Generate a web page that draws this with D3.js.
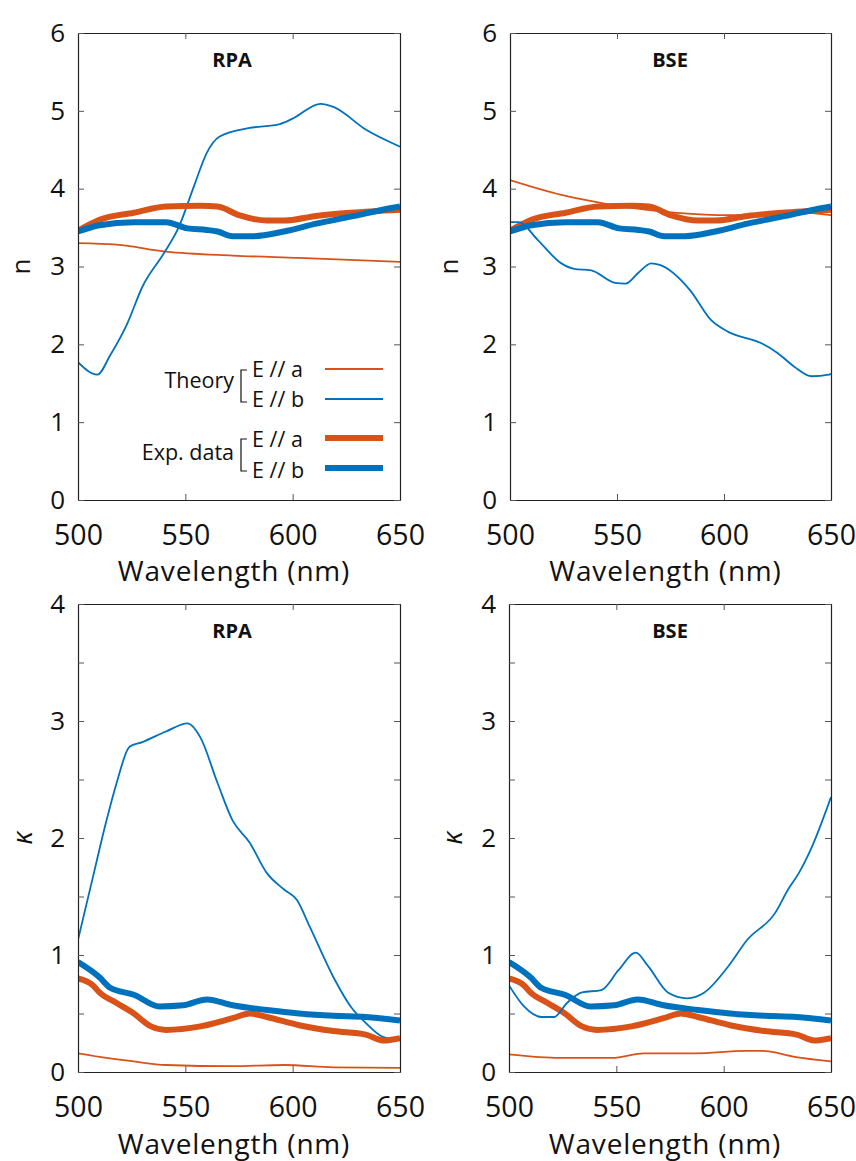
<!DOCTYPE html>
<html>
<head>
<meta charset="utf-8">
<script src="https://cdn.jsdelivr.net/npm/d3@7"></script>
<style>
body { margin: 0; background: #fff; }
text { font-family: "Open Sans", sans-serif; fill: #111; }
</style>
</head>
<body>
<div id="chart"></div>
<script>
// ---- data (wavelength in nm) ----
var xTicks = [500, 550, 600, 650];
var nTicks = [0, 1, 2, 3, 4, 5, 6];
var kTicks = [0, 0.5, 1, 1.5, 2, 2.5, 3, 3.5, 4];

// experimental data (same in RPA and BSE panels)
var expA_n_wl = [500, 510, 526, 541, 557, 565, 575, 588, 596, 611, 627, 650];
var expA_n = [3.46, 3.60, 3.69, 3.77, 3.78, 3.77, 3.66, 3.59, 3.59, 3.65, 3.69, 3.73];
var expB_n_wl = [500, 510, 526, 541, 551, 560, 565, 572, 582, 596, 611, 627, 642, 650];
var expB_n = [3.45, 3.53, 3.57, 3.57, 3.49, 3.47, 3.45, 3.39, 3.39, 3.45, 3.55, 3.64, 3.73, 3.77];
var expA_k_wl = [500, 507, 510, 518, 526, 534, 541, 557, 572, 580, 588, 603, 619, 634, 642, 650];
var expA_k = [0.80, 0.74, 0.68, 0.59, 0.50, 0.39, 0.36, 0.39, 0.46, 0.50, 0.47, 0.40, 0.35, 0.32, 0.27, 0.29];
var expB_k_wl = [500, 510, 515, 526, 538, 549, 560, 572, 588, 603, 619, 634, 650];
var expB_k = [0.94, 0.81, 0.72, 0.66, 0.56, 0.57, 0.62, 0.57, 0.53, 0.50, 0.48, 0.47, 0.44];

// RPA theory
var rpaA_n_wl = [500, 518, 541, 572, 603, 650];
var rpaA_n = [3.30, 3.28, 3.19, 3.14, 3.11, 3.06];
var rpaB_n_wl = [500, 509, 515, 523, 530, 540, 547, 554, 560, 566, 580, 594, 600, 613, 619, 634, 650];
var rpaB_n = [1.77, 1.61, 1.86, 2.27, 2.74, 3.17, 3.51, 4.03, 4.46, 4.67, 4.78, 4.83, 4.90, 5.09, 5.05, 4.76, 4.54];
var rpaA_k_wl = [500, 510, 526, 541, 572, 596, 619, 650];
var rpaA_k = [0.16, 0.13, 0.09, 0.06, 0.05, 0.06, 0.04, 0.035];
var rpaB_k_wl = [500, 507, 513, 518, 524, 530, 541, 551, 557, 565, 572, 580, 588, 596, 602, 608, 619, 627, 634, 642, 650];
var rpaB_k = [1.13, 1.67, 2.13, 2.47, 2.78, 2.82, 2.91, 2.98, 2.86, 2.47, 2.15, 1.96, 1.70, 1.56, 1.47, 1.24, 0.81, 0.56, 0.42, 0.30, 0.27];

// BSE theory
var bseA_n_wl = [500, 524, 540, 555, 578, 602, 633, 650];
var bseA_n = [4.11, 3.92, 3.83, 3.76, 3.69, 3.66, 3.70, 3.66];
var bseB_n_wl = [500, 504, 513, 524, 530, 538, 549, 554, 560, 566, 570, 584, 594, 602, 617, 625, 633, 641, 649, 650];
var bseB_n = [3.57, 3.57, 3.34, 3.04, 2.97, 2.95, 2.79, 2.78, 2.92, 3.04, 3.02, 2.70, 2.31, 2.16, 2.02, 1.89, 1.71, 1.59, 1.61, 1.62];
var bseA_k_wl = [500, 524, 548, 563, 587, 610, 618, 633, 650];
var bseA_k = [0.15, 0.12, 0.12, 0.16, 0.16, 0.18, 0.18, 0.13, 0.09];
var bseB_k_wl = [500, 507, 515, 521, 527, 534, 543, 551, 559, 565, 574, 583, 591, 602, 611, 624, 630, 635, 641, 650];
var bseB_k = [0.74, 0.56, 0.47, 0.47, 0.59, 0.68, 0.70, 0.87, 1.02, 0.90, 0.68, 0.63, 0.68, 0.90, 1.13, 1.36, 1.56, 1.70, 1.92, 2.35];

var ORANGE = "#D95319", BLUE = "#0072BD";

function series(wl, vals, color, width) {
    return { pts: wl.map(function (w, i) { return [w, vals[i]]; }), color: color, width: width };
}

var panels = [
    { id: "p1", left: 78, right: 400, top: 33, bottom: 500, ymax: 6, yTicks: nTicks, title: "RPA", titleX: 232, ylab: "n", ylabX: 30, xlabDy: 81,
      lines: [series(rpaA_n_wl, rpaA_n, ORANGE, 1.8), series(rpaB_n_wl, rpaB_n, BLUE, 1.8),
              series(expA_n_wl, expA_n, ORANGE, 6), series(expB_n_wl, expB_n, BLUE, 6)] },
    { id: "p2", left: 510, right: 831, top: 33, bottom: 500, ymax: 6, yTicks: nTicks, title: "BSE", titleX: 670, ylab: "n", ylabX: 458, xlabDy: 81,
      lines: [series(expA_n_wl, expA_n, ORANGE, 6), series(bseA_n_wl, bseA_n, ORANGE, 1.8),
              series(expB_n_wl, expB_n, BLUE, 6), series(bseB_n_wl, bseB_n, BLUE, 1.8)] },
    { id: "p3", left: 78, right: 400, top: 604, bottom: 1072, ymax: 4, yTicks: kTicks, title: "RPA", titleX: 232, ylab: "κ", ylabX: 32, xlabDy: 82,
      lines: [series(rpaA_k_wl, rpaA_k, ORANGE, 1.8), series(rpaB_k_wl, rpaB_k, BLUE, 1.8),
              series(expA_k_wl, expA_k, ORANGE, 6), series(expB_k_wl, expB_k, BLUE, 6)] },
    { id: "p4", left: 509, right: 831, top: 604, bottom: 1072, ymax: 4, yTicks: kTicks, title: "BSE", titleX: 670, ylab: "κ", ylabX: 462, xlabDy: 82,
      lines: [series(bseA_k_wl, bseA_k, ORANGE, 1.8), series(expA_k_wl, expA_k, ORANGE, 6),
              series(expB_k_wl, expB_k, BLUE, 6), series(bseB_k_wl, bseB_k, BLUE, 1.8)] }
];

var svg = d3.select("#chart").append("svg")
    .attr("width", 856)
    .attr("height", 1161)
    .style("background", "#fff");

panels.forEach(drawPanel);
drawLegend(panels[0]);

function drawPanel(p) {
    var x = d3.scaleLinear().domain([500, 650]).range([p.left, p.right]);
    var y = d3.scaleLinear().domain([0, p.ymax]).range([p.bottom, p.top]);
    var g = svg.append("g");

    g.append("clipPath").attr("id", "clip-" + p.id)
        .append("rect")
        .attr("x", p.left).attr("y", p.top)
        .attr("width", p.right - p.left).attr("height", p.bottom - p.top);

    var line = d3.line()
        .x(function (d) { return x(d[0]); })
        .y(function (d) { return y(d[1]); })
        .curve(d3.curveMonotoneX);

    p.lines.forEach(function (s) {
        g.append("path")
            .datum(s.pts)
            .attr("clip-path", "url(#clip-" + p.id + ")")
            .attr("d", line)
            .attr("fill", "none")
            .attr("stroke", s.color)
            .attr("stroke-width", s.width)
            .attr("stroke-linejoin", "round");
    });

    var intLabel = function (d) { return Number.isInteger(d) ? d : ""; };

    // bottom axis with labels
    var bx = g.append("g")
        .attr("transform", "translate(0," + p.bottom + ")")
        .call(d3.axisBottom(x).tickValues(xTicks).tickSizeInner(-6).tickSizeOuter(0).tickPadding(25));
    bx.selectAll("text").style("font-size", "28.5px");
    // top axis, ticks only
    g.append("g")
        .attr("transform", "translate(0," + p.top + ")")
        .call(d3.axisTop(x).tickValues(xTicks).tickSizeInner(-6).tickSizeOuter(0).tickFormat(""));
    // left axis with labels
    var ly = g.append("g")
        .attr("transform", "translate(" + p.left + ",0)")
        .call(d3.axisLeft(y).tickValues(p.yTicks).tickSizeInner(-6).tickSizeOuter(0).tickPadding(13).tickFormat(intLabel));
    ly.selectAll("text").style("font-size", "26px");
    // right axis, ticks only
    g.append("g")
        .attr("transform", "translate(" + p.right + ",0)")
        .call(d3.axisRight(y).tickValues(p.yTicks).tickSizeInner(-6).tickSizeOuter(0).tickFormat(""));

    g.selectAll(".domain").attr("stroke", "#222").attr("stroke-width", 1.2);
    g.selectAll(".tick line").attr("stroke", "#555");
    g.selectAll(".tick text").attr("fill", "#111").style("font-family", "'Open Sans', sans-serif");

    // panel title
    g.append("text")
        .attr("x", p.titleX)
        .attr("y", p.top + 34)
        .attr("text-anchor", "middle")
        .style("font-size", "20px")
        .style("font-weight", "bold")
        .text(p.title);

    // axis titles
    g.append("text")
        .attr("x", (p.left + p.right) / 2 - 5)
        .attr("y", p.bottom + p.xlabDy)
        .attr("text-anchor", "middle")
        .style("font-size", "28px")
        .style("letter-spacing", "0.8px")
        .text("Wavelength (nm)");

    g.append("text")
        .attr("transform", "translate(" + p.ylabX + "," + ((p.top + p.bottom) / 2) + ") rotate(-90)")
        .attr("text-anchor", "middle")
        .style("font-size", p.ylab == "n" ? "26px" : "27px")
        .style("font-style", p.ylab == "n" ? "normal" : "italic")
        .attr("fill", p.ylab == "n" ? "#111" : "#444")
        .text(p.ylab);
}

function drawLegend(p) {
    var lg = svg.append("g");
    var groups = [
        { name: "Theory", nameY: 388, rows: [["E // a", 377, 369, ORANGE, 1.8], ["E // b", 407, 399, BLUE, 1.8]] },
        { name: "Exp. data", nameY: 460, rows: [["E // a", 447, 438, ORANGE, 6], ["E // b", 478, 468, BLUE, 6]] }
    ];
    groups.forEach(function (gr) {
        lg.append("text")
            .attr("x", 234).attr("y", gr.nameY)
            .attr("text-anchor", "end")
            .style("font-size", "21.5px")
            .text(gr.name);
        var y0 = gr.rows[0][2] + 1, y1 = gr.rows[1][2] + 3;
        lg.append("path")
            .attr("d", "M247," + y0 + "H241V" + y1 + "H247")
            .attr("fill", "none")
            .attr("stroke", "#111")
            .attr("stroke-width", 1.2);
        gr.rows.forEach(function (r) {
            lg.append("text")
                .attr("x", 252).attr("y", r[1])
                .style("font-size", "21.5px")
                .text(r[0]);
            lg.append("line")
                .attr("x1", 325).attr("x2", 383)
                .attr("y1", r[2]).attr("y2", r[2])
                .attr("stroke", r[3])
                .attr("stroke-width", r[4]);
        });
    });
}
</script>
</body>
</html>
